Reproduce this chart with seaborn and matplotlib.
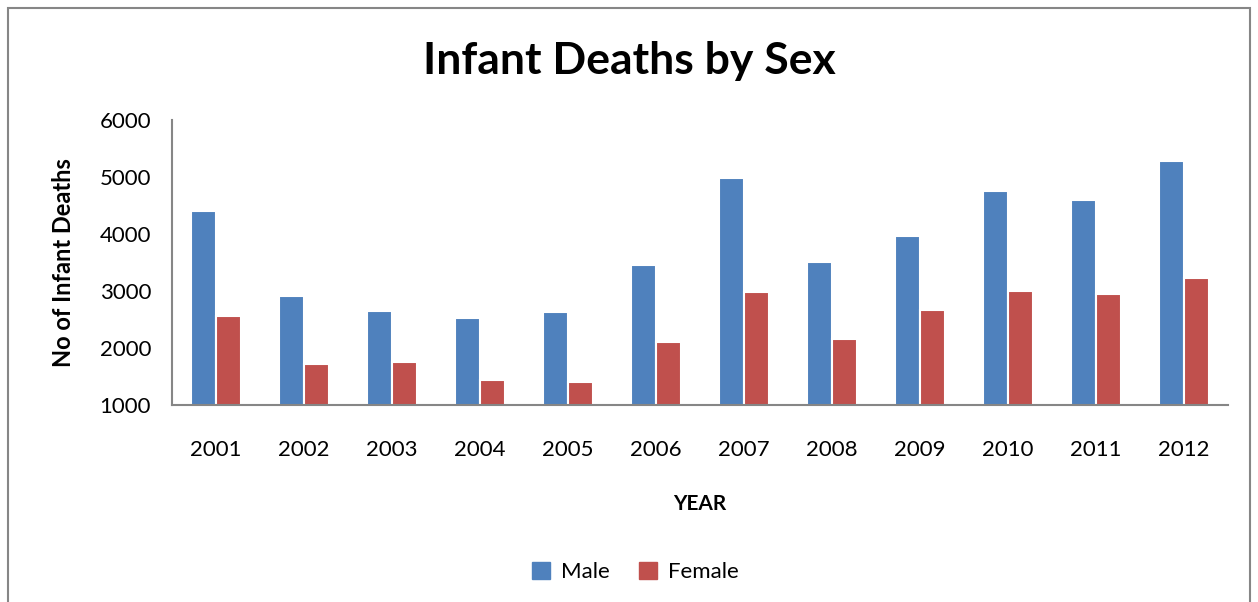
import matplotlib
matplotlib.use("Agg")
import matplotlib.pyplot as plt
import matplotlib.patches as mpatches
import seaborn as sns
import pandas as pd

# values
years = ["2001", "2002", "2003", "2004", "2005", "2006",
         "2007", "2008", "2009", "2010", "2011", "2012"]
male = [4410, 2920, 2655, 2530, 2630, 3455, 4990, 3510, 3970, 4760, 4600, 5285]
female = [2560, 1725, 1760, 1445, 1405, 2110, 2990, 2165, 2670, 3005, 2955, 3235]
series = ["Male", "Female"]
colors = ["#4F81BD", "#C0504D"]

df = pd.DataFrame({
    "Year": years * 2,
    "Deaths": male + female,
    "Sex": ["Male"] * len(years) + ["Female"] * len(years),
})

sns.set_style("white")
plt.rcParams["font.family"] = ["Lato", "DejaVu Sans"]
plt.rcParams["text.color"] = "black"
plt.rcParams["axes.labelcolor"] = "black"
plt.rcParams["xtick.color"] = "black"
plt.rcParams["ytick.color"] = "black"

fig = plt.figure(figsize=(12.58, 6.02), dpi=100)
ax = fig.add_axes([0.1367, 0.3272, 0.8395, 0.4734])

sns.barplot(data=df, x="Year", y="Deaths", hue="Sex", hue_order=series,
            palette=colors, width=0.56, edgecolor="white", linewidth=1.5,
            saturation=1, ax=ax, legend=False)

ax.set_ylim(1000, 6000)
ax.set_yticks(range(1000, 6001, 1000))
ax.set_xlim(-0.5, len(years) - 0.5)

for s in ["top", "right"]:
    ax.spines[s].set_visible(False)
for s in ["left", "bottom"]:
    ax.spines[s].set_color("#868686")
    ax.spines[s].set_linewidth(1.5)

ax.tick_params(axis="y", length=7, width=1.2, color="#868686", labelsize=16, pad=8)
ax.tick_params(axis="x", length=0, labelsize=16, pad=25)

ax.set_xlabel("YEAR", fontsize=15, fontweight="bold", labelpad=25)
ax.set_ylabel("No of Infant Deaths", fontsize=17, fontweight="bold", labelpad=18)

fig.text(0.5, 0.898, "Infant Deaths by Sex", ha="center", va="center",
         fontsize=32, fontweight="bold")

handles = [mpatches.Patch(color=c, label=l) for c, l in zip(colors, series)]
fig.legend(handles=handles, loc="center", bbox_to_anchor=(0.505, 0.05), ncol=2,
           frameon=False, fontsize=16, handlelength=0.8, handleheight=0.8,
           handletextpad=0.5, columnspacing=1.3)

# outer chart border
fig.patches.append(mpatches.Rectangle((8 / 1258, -0.05), 1242 / 1258, 1.05 - 8 / 602,
                                      transform=fig.transFigure, fill=False,
                                      edgecolor="#868686", linewidth=1.5))

fig.savefig("out.png", dpi=100)
